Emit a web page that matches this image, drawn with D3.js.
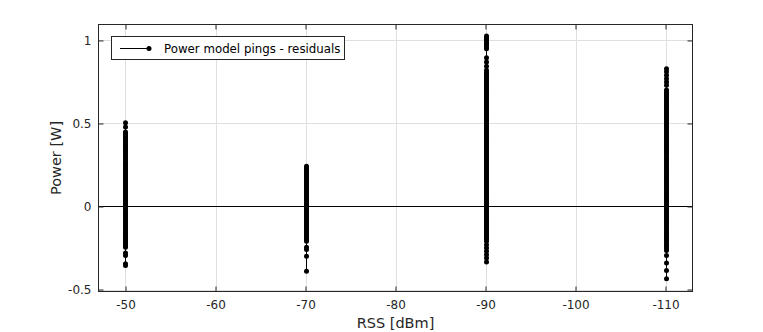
<!DOCTYPE html>
<html>
<head>
<meta charset="utf-8">
<script src="https://cdn.jsdelivr.net/npm/d3@7"></script>
<style>
  body { margin: 0; background: #fff; }
  svg { display: block; font-family: "DejaVu Sans", sans-serif; }
</style>
</head>
<body>
<div class="main"></div>
<script>
// Chart parameters
const width = 763;
const height = 332;

// RSS levels (x) and residual samples
const rssLevels = [-50, -70, -90, -110];

const residualsAt50 = [0.505, 0.478, 0.448, 0.44, 0.431, 0.422, 0.412, 0.403, 0.394, 0.382, 0.371, 0.361, 0.352,
  0.343, 0.333, 0.322, 0.311, 0.301, 0.292, 0.281, 0.27, 0.26, 0.251, 0.242, 0.232, 0.221, 0.21, 0.2, 0.191, 0.182,
  0.172, 0.161, 0.15, 0.14, 0.131, 0.122, 0.112, 0.101, 0.09, 0.08, 0.071, 0.062, 0.052, 0.041, 0.03, 0.02, 0.011,
  0.002, -0.008, -0.019, -0.03, -0.04, -0.049, -0.058, -0.068, -0.079, -0.09, -0.1, -0.109, -0.118, -0.128, -0.139,
  -0.15, -0.16, -0.169, -0.178, -0.188, -0.199, -0.21, -0.22, -0.228, -0.237, -0.245, -0.28, -0.295, -0.345, -0.355];

const residualsAt70 = [0.243, 0.235, 0.228, 0.219, 0.21, 0.202, 0.194, 0.185, 0.177, 0.168, 0.16, 0.15, 0.141,
  0.133, 0.125, 0.116, 0.108, 0.099, 0.09, 0.08, 0.071, 0.063, 0.055, 0.046, 0.038, 0.029, 0.02, 0.011, 0.003,
  -0.006, -0.015, -0.023, -0.032, -0.041, -0.05, -0.059, -0.068, -0.076, -0.085, -0.093, -0.101, -0.11, -0.12,
  -0.128, -0.137, -0.146, -0.155, -0.163, -0.172, -0.181, -0.19, -0.2, -0.209, -0.245, -0.259, -0.3, -0.39];

const residualsAt90 = [1.026, 1.017, 1.008, 0.999, 0.99, 0.981, 0.972, 0.961, 0.95, 0.896, 0.87, 0.845, 0.82, 0.81,
  0.8, 0.79, 0.781, 0.771, 0.762, 0.751, 0.741, 0.731, 0.722, 0.711, 0.7, 0.691, 0.682, 0.671, 0.661, 0.652, 0.643,
  0.631, 0.62, 0.61, 0.601, 0.592, 0.583, 0.571, 0.56, 0.551, 0.542, 0.532, 0.521, 0.51, 0.5, 0.491, 0.482, 0.471,
  0.461, 0.45, 0.44, 0.431, 0.421, 0.41, 0.4, 0.39, 0.381, 0.372, 0.362, 0.351, 0.341, 0.33, 0.32, 0.311, 0.302,
  0.291, 0.281, 0.27, 0.26, 0.251, 0.242, 0.232, 0.221, 0.21, 0.2, 0.191, 0.182, 0.171, 0.161, 0.15, 0.14, 0.131,
  0.122, 0.111, 0.101, 0.09, 0.08, 0.071, 0.062, 0.051, 0.041, 0.03, 0.02, 0.011, 0.002, -0.008, -0.018, -0.029,
  -0.039, -0.05, -0.06, -0.069, -0.078, -0.088, -0.099, -0.11, -0.12, -0.129, -0.138, -0.148, -0.159, -0.17, -0.18,
  -0.189, -0.198, -0.209, -0.23, -0.25, -0.27, -0.29, -0.31, -0.335];

const residualsAt110 = [0.83, 0.812, 0.79, 0.77, 0.75, 0.73, 0.702, 0.692, 0.681, 0.671, 0.662, 0.651, 0.641, 0.63,
  0.62, 0.611, 0.602, 0.591, 0.581, 0.57, 0.56, 0.551, 0.542, 0.531, 0.521, 0.51, 0.5, 0.49, 0.481, 0.472, 0.462,
  0.451, 0.44, 0.43, 0.421, 0.41, 0.4, 0.391, 0.382, 0.371, 0.361, 0.35, 0.34, 0.331, 0.322, 0.311, 0.3, 0.29, 0.281,
  0.272, 0.262, 0.251, 0.241, 0.23, 0.22, 0.21, 0.201, 0.19, 0.18, 0.171, 0.162, 0.151, 0.141, 0.13, 0.12, 0.111,
  0.101, 0.09, 0.08, 0.07, 0.061, 0.05, 0.04, 0.031, 0.022, 0.011, 0.001, -0.01, -0.02, -0.03, -0.039, -0.05, -0.06,
  -0.07, -0.081, -0.09, -0.1, -0.11, -0.119, -0.13, -0.14, -0.15, -0.161, -0.17, -0.18, -0.19, -0.2, -0.21, -0.221,
  -0.23, -0.24, -0.252, -0.265, -0.295, -0.34, -0.385, -0.435];

const xTicks = [-50, -60, -70, -80, -90, -100, -110];
const yTicks = [-0.5, 0, 0.5, 1];
const legendLabel = 'Power model pings - residuals';

const series = rssLevels.map((rss, i) => ({
  rss: rss,
  values: [residualsAt50, residualsAt70, residualsAt90, residualsAt110][i]
}));

const axisColor = '#262626';
const gridColor = '#dfdfdf';

const svg = d3.select('.main')
  .append('svg')
  .attr('width', width)
  .attr('height', height);

// Scales (x reversed like the original)
const x = d3.scaleLinear()
  .domain([-47, -113])
  .range([98.5, 692.5]);

const y = d3.scaleLinear()
  .domain([-0.512, 1.096])
  .range([291.5, 24.5]);

const [plotLeft, plotRight] = x.range();
const [plotBottom, plotTop] = y.range();

// Grid
svg.append('g')
  .selectAll('line')
  .data(xTicks)
  .enter()
  .append('line')
  .attr('x1', d => Math.round(x(d)) + 0.5)
  .attr('x2', d => Math.round(x(d)) + 0.5)
  .attr('y1', plotTop)
  .attr('y2', plotBottom)
  .attr('stroke', gridColor);

svg.append('g')
  .selectAll('line')
  .data(yTicks)
  .enter()
  .append('line')
  .attr('y1', d => Math.round(y(d)) + 0.5)
  .attr('y2', d => Math.round(y(d)) + 0.5)
  .attr('x1', plotLeft)
  .attr('x2', plotRight)
  .attr('stroke', gridColor);

// Zero reference line
svg.append('line')
  .attr('x1', plotLeft)
  .attr('x2', plotRight)
  .attr('y1', Math.round(y(0)) + 0.5)
  .attr('y2', Math.round(y(0)) + 0.5)
  .attr('stroke', '#000');

// Lines and dots for each RSS level
const line = d3.line()
  .x(d => d.x)
  .y(d => y(d.v));

const groups = svg.append('g')
  .selectAll('g')
  .data(series)
  .enter()
  .append('g');

groups.append('path')
  .attr('d', s => line(s.values.map(v => ({ x: Math.round(x(s.rss)) + 0.5, v: v }))))
  .attr('fill', 'none')
  .attr('stroke', '#000')
  .attr('stroke-width', 1);

groups.selectAll('circle')
  .data(s => s.values.map(v => ({ rss: s.rss, v: v })))
  .enter()
  .append('circle')
  .attr('cx', d => Math.round(x(d.rss)) + 0.5)
  .attr('cy', d => y(d.v))
  .attr('r', 2.5)
  .attr('fill', '#000');

// Axes with ticks pointing inside (box on)
const fmt = d => String(d);

const styleAxis = g => {
  g.select('.domain').remove();
  g.selectAll('.tick line').attr('stroke', axisColor);
  g.selectAll('.tick text').attr('fill', axisColor).style('font-size', '12px').style('font-family', '"DejaVu Sans", sans-serif');
};

svg.append('g')
  .attr('transform', `translate(0, ${plotBottom})`)
  .call(d3.axisBottom(x).tickValues(xTicks).tickFormat(fmt).tickSizeInner(-5).tickSizeOuter(0).tickPadding(9))
  .call(styleAxis);

svg.append('g')
  .attr('transform', `translate(0, ${plotTop})`)
  .call(d3.axisTop(x).tickValues(xTicks).tickFormat('').tickSizeInner(-5).tickSizeOuter(0))
  .call(styleAxis);

svg.append('g')
  .attr('transform', `translate(${plotLeft}, 0)`)
  .call(d3.axisLeft(y).tickValues(yTicks).tickFormat(fmt).tickSizeInner(-5).tickSizeOuter(0).tickPadding(7))
  .call(styleAxis);

svg.append('g')
  .attr('transform', `translate(${plotRight}, 0)`)
  .call(d3.axisRight(y).tickValues(yTicks).tickFormat('').tickSizeInner(-5).tickSizeOuter(0))
  .call(styleAxis);

// Box
svg.append('rect')
  .attr('x', plotLeft)
  .attr('y', plotTop)
  .attr('width', plotRight - plotLeft)
  .attr('height', plotBottom - plotTop)
  .attr('fill', 'none')
  .attr('stroke', axisColor);

// Axis titles
svg.append('text')
  .attr('x', (plotLeft + plotRight) / 2)
  .attr('y', 328)
  .attr('text-anchor', 'middle')
  .attr('fill', axisColor)
  .style('font-size', '14.5px')
  .text('RSS [dBm]');

svg.append('text')
  .attr('transform', `translate(61, ${(plotTop + plotBottom) / 2}) rotate(-90)`)
  .attr('text-anchor', 'middle')
  .attr('fill', axisColor)
  .style('font-size', '14.5px')
  .text('Power [W]');

// Legend
const legend = svg.append('g');
legend.append('rect')
  .attr('x', 111.5)
  .attr('y', 36.5)
  .attr('width', 233)
  .attr('height', 23)
  .attr('fill', '#fff')
  .attr('stroke', axisColor);
legend.append('line')
  .attr('x1', 120)
  .attr('x2', 149)
  .attr('y1', 48.5)
  .attr('y2', 48.5)
  .attr('stroke', '#000');
legend.append('circle')
  .attr('cx', 149)
  .attr('cy', 48.5)
  .attr('r', 2.5)
  .attr('fill', '#000');
legend.append('text')
  .attr('x', 164)
  .attr('y', 52.5)
  .attr('fill', '#000')
  .style('font-size', '11.8px')
  .text(legendLabel);
</script>
</body>
</html>
